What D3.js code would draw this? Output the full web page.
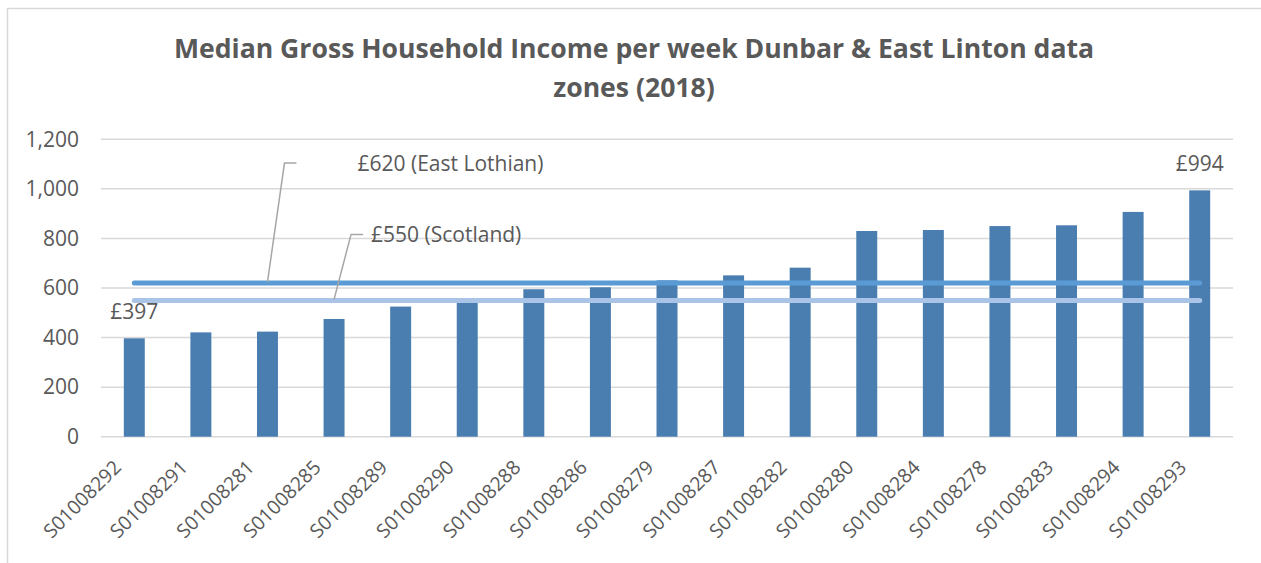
<!DOCTYPE html>
<html>
<head>
<meta charset="utf-8">
<script src="https://cdn.jsdelivr.net/npm/d3@7"></script>
<style>
  body { margin: 0; background: #fff; }
  svg text { font-family: "Open Sans", sans-serif; fill: #595959; }
</style>
</head>
<body>
<div id="chart"></div>
<script>
// data zones, sorted by income
var zones = ["S01008292", "S01008291", "S01008281", "S01008285", "S01008289", "S01008290",
    "S01008288", "S01008286", "S01008279", "S01008287", "S01008282", "S01008280",
    "S01008284", "S01008278", "S01008283", "S01008294", "S01008293"];
var income = [397, 421, 424, 475, 525, 553, 595, 603, 631, 651, 682, 830, 834, 850, 853, 907, 994];
var eastLothian = 620;
var scotland = 550;
var yTicks = [0, 200, 400, 600, 800, 1000, 1200];
var titleLines = ["Median Gross Household Income per week Dunbar & East Linton data", "zones (2018)"];

var width = 1261, height = 563;
var margin = {left: 101, right: 28, top: 139.3, bottom: 126.3};

var svg = d3.select("#chart")
    .append("svg")
    .attr("width", width)
    .attr("height", height);

// chart frame (only left and top edges are visible in the crop)
svg.append("path")
    .attr("d", "M7.5," + height + "V8.5H" + width)
    .attr("fill", "none")
    .attr("stroke", "#d9d9d9")
    .attr("stroke-width", 1.5);

svg.selectAll(".title")
    .data(titleLines)
    .enter()
    .append("text")
    .attr("class", "title")
    .attr("x", 634)
    .attr("y", (d, i) => 58 + i * 39)
    .attr("text-anchor", "middle")
    .style("font-size", "26.6px")
    .style("font-weight", "bold")
    .text(d => d);

var x = d3.scaleBand()
    .domain(zones)
    .range([margin.left, width - margin.right])
    .paddingInner(0.685)
    .paddingOuter(0.3425);

var y = d3.scaleLinear()
    .domain([0, 1200])
    .range([height - margin.bottom, margin.top]);

/* gridlines */
svg.append("g")
    .selectAll("line")
    .data(yTicks)
    .enter()
    .append("line")
    .attr("x1", margin.left)
    .attr("x2", width - margin.right)
    .attr("y1", d => y(d))
    .attr("y2", d => y(d))
    .attr("stroke", "#d9d9d9")
    .attr("stroke-width", 1.5);

var yAxis = d3.axisLeft(y).tickValues(yTicks).tickSize(0).tickPadding(0).tickFormat(d3.format(","));
var gy = svg.append("g")
    .attr("transform", "translate(79,0)")
    .call(yAxis);
gy.select(".domain").remove();
gy.selectAll("text")
    .style("font-size", "21px")
    .style("font-family", "'Open Sans', sans-serif")
    .attr("fill", "#595959");

svg.append("g")
    .selectAll("rect")
    .data(income)
    .enter()
    .append("rect")
    .attr("x", (d, i) => x(zones[i]))
    .attr("y", d => y(d))
    .attr("width", x.bandwidth())
    .attr("height", d => y(0) - y(d))
    .attr("fill", "#4a7eb0");

var xAxis = d3.axisBottom(x).tickSize(0).tickPadding(0);
var gx = svg.append("g")
    .attr("transform", "translate(0," + y(0) + ")")
    .call(xAxis);
gx.select(".domain").remove();
gx.selectAll("text")
    .style("font-size", "19.5px")
    .style("font-family", "'Open Sans', sans-serif")
    .attr("fill", "#595959")
    .attr("text-anchor", "end")
    .attr("dy", 0)
    .attr("transform", "translate(-12,32) rotate(-45)");

// reference lines
var first = x(zones[0]) + x.bandwidth() / 2,
    last = x(zones[zones.length - 1]) + x.bandwidth() / 2;

var refLines = [
    {value: eastLothian, label: "£620 (East Lothian)", color: "#5b9bd5", at: 2, rise: 120, textX: 90},
    {value: scotland, label: "£550 (Scotland)", color: "#a9c4e6", at: 3, rise: 66, textX: 37}
];

refLines.forEach(function(r){
    svg.append("line")
        .attr("x1", first).attr("x2", last)
        .attr("y1", y(r.value)).attr("y2", y(r.value))
        .attr("stroke", r.color)
        .attr("stroke-width", 5)
        .attr("stroke-linecap", "round");
});

refLines.forEach(function(r){
    var px = x(zones[r.at]) + x.bandwidth() / 2, py = y(r.value);
    svg.append("path")
        .attr("d", "M" + px + "," + (py - 1) + "L" + (px + 17) + "," + (py - r.rise) + "h12")
        .attr("fill", "none")
        .attr("stroke", "#a6a6a6")
        .attr("stroke-width", 1.5);
    svg.append("text")
        .attr("x", px + r.textX)
        .attr("y", py - r.rise + 8)
        .style("font-size", "21px")
        .text(r.label);
});

// end value labels
var ends = [0, income.length - 1];
svg.selectAll(".endLabel")
    .data(ends)
    .enter()
    .append("text")
    .attr("class", "endLabel")
    .attr("x", i => x(zones[i]) + x.bandwidth() / 2)
    .attr("y", i => y(income[i]) - 19)
    .attr("text-anchor", "middle")
    .style("font-size", "21px")
    .text(i => "£" + income[i]);
</script>
</body>
</html>
